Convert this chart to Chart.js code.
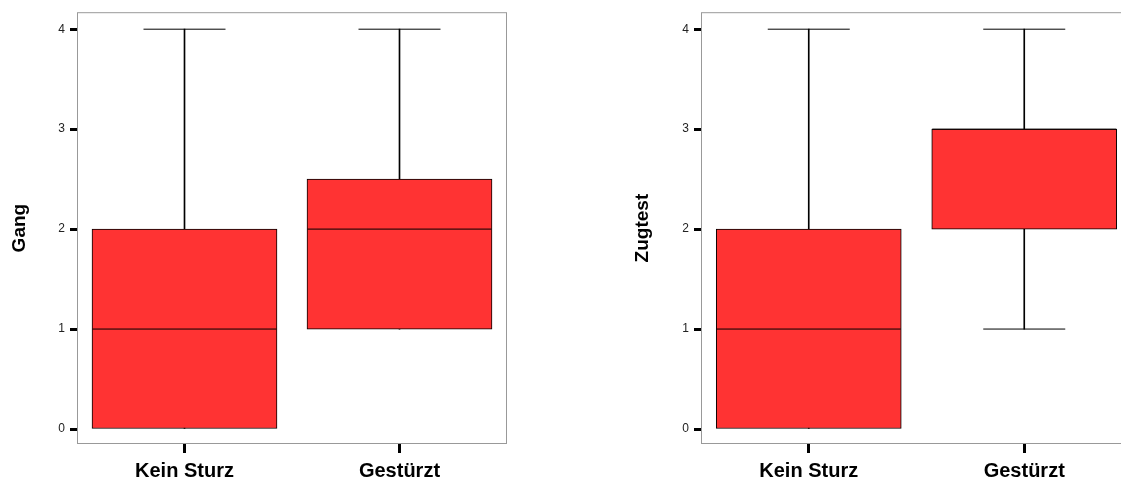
<!DOCTYPE html>
<html>
<head>
<meta charset="utf-8">
<script src="https://cdn.jsdelivr.net/npm/chart.js@4.4.0/dist/chart.umd.min.js"></script>
<style>
  html, body { margin: 0; padding: 0; background: #fff; overflow: hidden; }
  body { width: 1121px; height: 481px; position: relative; }
  .box { position: absolute; top: 0; height: 481px; }
</style>
</head>
<body>
<div class="box" style="left:0px; width:508px"><canvas id="gangChart"></canvas></div>
<div class="box" style="left:620px; width:513px"><canvas id="zugChart"></canvas></div>
<script>
// Kategorien und Boxplot-Kennwerte
var categories = ['Kein Sturz', 'Gestürzt'];
var yTicks = [0, 1, 2, 3, 4];

var gangMin    = [0, 1];
var gangQ1     = [0, 1];
var gangMedian = [1, 2];
var gangQ3     = [2, 2.5];
var gangMax    = [4, 4];

var zugMin    = [0, 1];
var zugQ1     = [0, 2];
var zugMedian = [1, 3];
var zugQ3     = [2, 3];
var zugMax    = [4, 4];

var fontFamily = '"Liberation Sans", Arial, sans-serif';

// grauer Rahmen um die Zeichenfläche
var framePlugin = {
    id: 'frame',
    beforeDatasetsDraw: function(chart) {
        var a = chart.chartArea;
        var ctx = chart.ctx;
        ctx.save();
        ctx.strokeStyle = '#999999';
        ctx.lineWidth = 1;
        ctx.strokeRect(a.left + 0.5, a.top + 0.5, a.right - a.left - 1, a.bottom - a.top - 1);
        ctx.restore();
    }
};

function makeBoxplot(id, title, mins, q1s, meds, q3s, maxs, axisWidth, titlePad) {
    var ctx = document.getElementById(id).getContext('2d');
    // unterer Querstrich nur, wenn er nicht auf dem Boxrand liegt
    var lowCaps = mins.map(function(v, i) { return v < q1s[i] ? v : null; });
    return new Chart(ctx, {
        type: 'bar',
        data: {
            labels: categories,
            datasets: [
                // Mediane
                {
                    type: 'line',
                    data: meds,
                    showLine: false,
                    pointStyle: 'line',
                    pointRadius: 92,
                    pointHoverRadius: 92,
                    pointBorderColor: '#000',
                    pointBorderWidth: 1,
                    order: 0
                },
                // obere Querstriche
                {
                    type: 'line',
                    data: maxs,
                    showLine: false,
                    pointStyle: 'line',
                    pointRadius: 41,
                    pointHoverRadius: 41,
                    pointBorderColor: '#000',
                    pointBorderWidth: 1,
                    order: 0
                },
                // untere Querstriche
                {
                    type: 'line',
                    data: lowCaps,
                    showLine: false,
                    pointStyle: 'line',
                    pointRadius: 41,
                    pointHoverRadius: 41,
                    pointBorderColor: '#000',
                    pointBorderWidth: 1,
                    order: 0
                },
                // Boxen
                {
                    data: q1s.map(function(v, i) { return [v, q3s[i]]; }),
                    backgroundColor: '#ff3333',
                    borderColor: '#000',
                    borderWidth: 1,
                    borderSkipped: false,
                    grouped: false,
                    barThickness: 185,
                    order: 1
                },
                // Whisker
                {
                    data: mins.map(function(v, i) { return [v, maxs[i]]; }),
                    backgroundColor: '#000',
                    borderWidth: 0,
                    grouped: false,
                    barThickness: 1,
                    order: 2
                }
            ]
        },
        options: {
            responsive: true,
            maintainAspectRatio: false,
            devicePixelRatio: 1,
            animation: false,
            events: [],
            layout: { autoPadding: false, padding: { top: 12, right: 1, bottom: 0, left: 0 } },
            plugins: {
                legend: { display: false },
                tooltip: { enabled: false }
            },
            scales: {
                x: {
                    offset: true,
                    grid: {
                        offset: false,
                        drawOnChartArea: false,
                        tickLength: 9,
                        tickWidth: 3,
                        tickColor: '#000'
                    },
                    border: { display: false },
                    ticks: {
                        color: '#000',
                        padding: 6,
                        font: { family: fontFamily, size: 20, weight: 'bold' }
                    },
                    afterFit: function(scale) { scale.height = 37; }
                },
                y: {
                    min: -0.15,
                    max: 4.17,
                    afterBuildTicks: function(scale) {
                        scale.ticks = yTicks.map(function(v) { return { value: v }; });
                    },
                    grid: {
                        drawOnChartArea: false,
                        tickLength: 7,
                        tickWidth: 3,
                        tickColor: '#000'
                    },
                    border: { display: false },
                    ticks: {
                        color: '#222',
                        padding: 5,
                        font: { family: fontFamily, size: 12 }
                    },
                    title: {
                        display: true,
                        text: title,
                        color: '#000',
                        padding: { top: titlePad, bottom: 0 },
                        font: { family: fontFamily, size: 19, weight: 'bold' }
                    },
                    afterFit: function(scale) { scale.width = axisWidth; }
                }
            }
        },
        plugins: [framePlugin]
    });
}

makeBoxplot('gangChart', 'Gang', gangMin, gangQ1, gangMedian, gangQ3, gangMax, 77, 8);
makeBoxplot('zugChart', 'Zugtest', zugMin, zugQ1, zugMedian, zugQ3, zugMax, 81, 11.6);
</script>
</body>
</html>
